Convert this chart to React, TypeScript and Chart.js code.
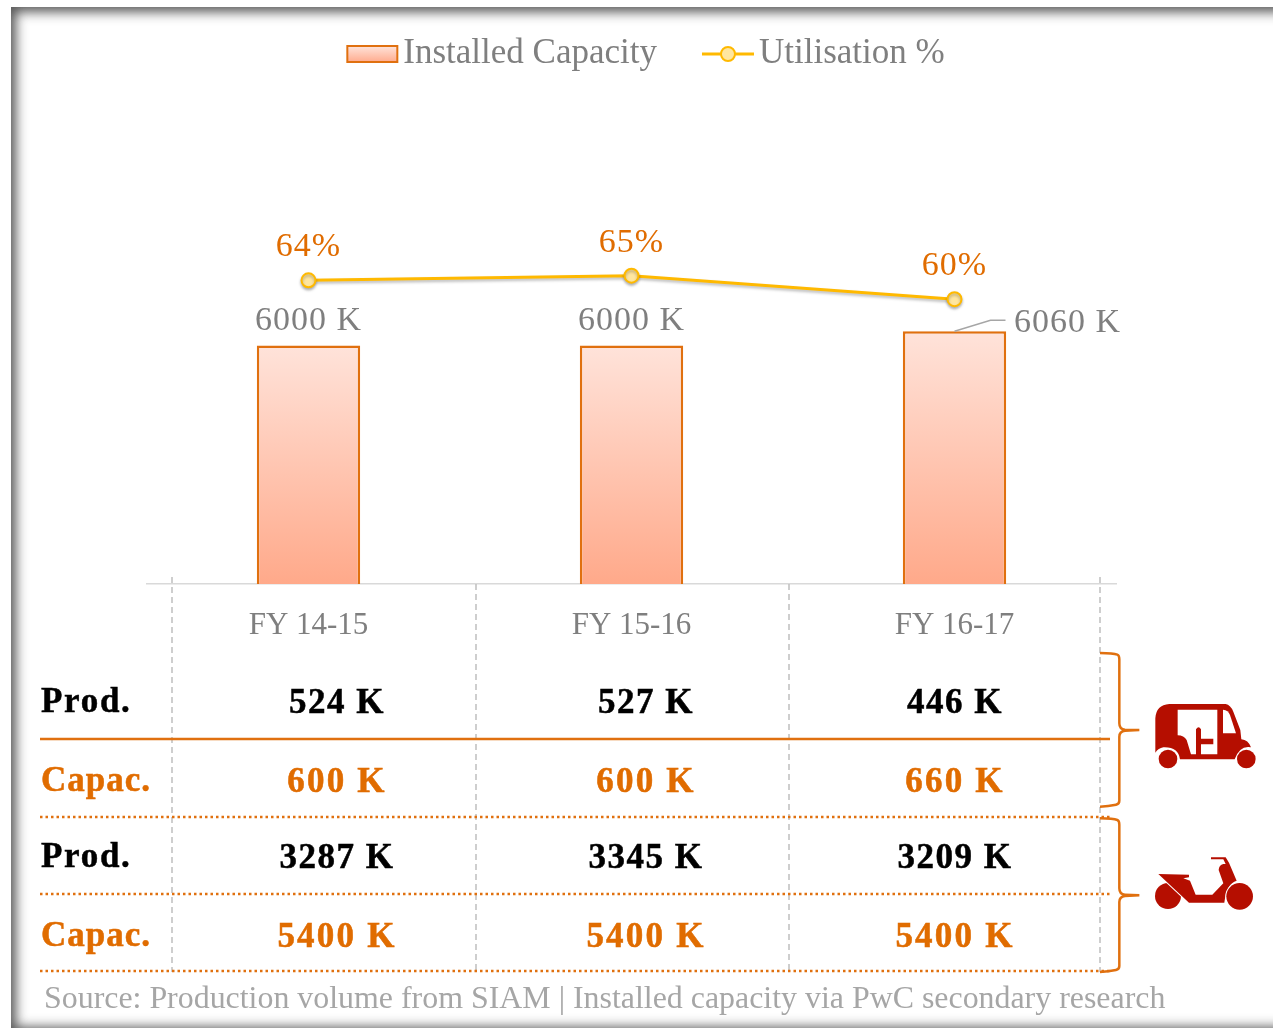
import React, { useEffect, useRef } from "react";
import { Chart, registerables } from "chart.js";

Chart.register(...registerables);

const categories = ["FY 14-15", "FY 15-16", "FY 16-17"];
const installedCapacity = [6000, 6000, 6060];
const utilisation = [64, 65, 60];
const threeWheelerProd = [524, 527, 446];
const threeWheelerCapac = [600, 600, 660];
const twoWheelerProd = [3287, 3345, 3209];
const twoWheelerCapac = [5400, 5400, 5400];
const sourceNote = "Source: Production volume from SIAM | Installed capacity via PwC secondary research";

const SERIF = '"Liberation Serif", serif';
const GREY = "#7f7f7f";
const ORANGE = "#e06c00";
const BORDER = "#e0700f";
const YELLOW = "#ffb900";
const RED = "#b50e00";

const labelsPlugin = {
  id: "labelsPlugin",
  beforeDatasetDraw(chart: any, args: any) {
    if (args.index === 1) {
      const c = chart.ctx;
      c.save();
      c.shadowColor = "rgba(0,0,0,0.28)";
      c.shadowBlur = 3;
      c.shadowOffsetY = 2;
    }
  },
  afterDatasetDraw(chart: any, args: any) {
    if (args.index === 1) chart.ctx.restore();
  },
  afterDraw(chart: any) {
    const c = chart.ctx;
    c.save();
    c.textAlign = "center";
    c.textBaseline = "middle";
    // value labels
    c.font = `34px ${SERIF}`;
    c.letterSpacing = "1px";
    const bars = chart.getDatasetMeta(0).data;
    bars.forEach((bar: any, i: number) => {
      c.fillStyle = GREY;
      const callout = i === 2;
      const x = callout ? bar.x + 113 : bar.x;
      const y = callout ? bar.y - 8 : bar.y - 25;
      c.fillText(`${installedCapacity[i]} K`, x, y);
      if (callout) {
        c.beginPath();
        c.moveTo(bar.x, bar.y);
        c.lineTo(bar.x + 36, bar.y - 11);
        c.lineTo(bar.x + 51, bar.y - 11);
        c.strokeStyle = "#a6a6a6";
        c.lineWidth = 1.5;
        c.stroke();
      }
    });
    c.fillStyle = ORANGE;
    chart.getDatasetMeta(1).data.forEach((pt: any, i: number) => {
      c.fillText(`${utilisation[i]}%`, pt.x, pt.y - 33);
    });
    c.letterSpacing = "0px";
    // legend glyphs
    const boxes = chart.legend.legendHitBoxes;
    const a = boxes[0];
    const ya = a.top + a.height / 2;
    const g = c.createLinearGradient(0, ya - 8, 0, ya + 8);
    g.addColorStop(0, "#ffe3da");
    g.addColorStop(1, "#ffab8e");
    c.fillStyle = g;
    c.strokeStyle = BORDER;
    c.lineWidth = 2;
    c.fillRect(a.left + 1, ya - 8, 50, 16);
    c.strokeRect(a.left + 1, ya - 8, 50, 16);
    const b = boxes[1];
    const yb = b.top + b.height / 2;
    c.beginPath();
    c.moveTo(b.left, yb);
    c.lineTo(b.left + 52, yb);
    c.strokeStyle = YELLOW;
    c.lineWidth = 3;
    c.stroke();
    c.beginPath();
    c.arc(b.left + 26, yb, 7, 0, Math.PI * 2);
    c.fillStyle = "#ffe69f";
    c.fill();
    c.lineWidth = 2;
    c.stroke();
    c.restore();
  },
};

function Cell({ x, y, text, color, anchor, spacing }: any) {
  return (
    <div
      style={{
        position: "absolute",
        left: anchor === "left" ? x : x - 150,
        width: anchor === "left" ? 200 : 300,
        top: y - 25,
        height: 50,
        textAlign: anchor === "left" ? "left" : "center",
        font: `bold 35px/50px ${SERIF}`,
        letterSpacing: spacing,
        WebkitTextStroke: `0.5px ${color}`,
        color,
        whiteSpace: "nowrap",
      }}
    >
      {text}
    </div>
  );
}

const colCentres = [337, 646, 955];
const tableRows = [
  { label: "Prod.", y: 701, values: threeWheelerProd, color: "#000000", labelSpacing: "1.7px", spacing: "1.5px" },
  { label: "Capac.", y: 780, values: threeWheelerCapac, color: ORANGE, labelSpacing: "1px", spacing: "2.2px" },
  { label: "Prod.", y: 856, values: twoWheelerProd, color: "#000000", labelSpacing: "1.7px", spacing: "1.5px" },
  { label: "Capac.", y: 935, values: twoWheelerCapac, color: ORANGE, labelSpacing: "1px", spacing: "2.2px" },
];

export default function App() {
  const ref = useRef<HTMLCanvasElement | null>(null);
  useEffect(() => {
    if (!ref.current) return;
    const chart = new Chart(ref.current, {
      type: "bar",
      plugins: [labelsPlugin as any],
      data: {
        labels: categories,
        datasets: [
          {
            type: "bar",
            label: "Installed Capacity",
            data: installedCapacity,
            yAxisID: "y",
            barPercentage: 0.32,
            categoryPercentage: 1,
            borderWidth: 2.5,
            borderColor: BORDER,
            backgroundColor: (ctx: any) => {
              const { chart: ch, dataIndex } = ctx;
              const s = ch.scales && ch.scales.y;
              if (!s) return "#ffc4b0";
              const top = s.getPixelForValue(installedCapacity[dataIndex]);
              const g = ch.ctx.createLinearGradient(0, top, 0, s.bottom);
              g.addColorStop(0, "#ffe3da");
              g.addColorStop(1, "#ffa98a");
              return g;
            },
          },
          {
            type: "line",
            label: "Utilisation %",
            data: utilisation,
            yAxisID: "y1",
            borderColor: YELLOW,
            borderWidth: 3,
            tension: 0,
            pointRadius: 7,
            pointBorderWidth: 2,
            pointBackgroundColor: "#ffe69f",
            pointBorderColor: YELLOW,
          },
        ],
      },
      options: {
        responsive: false,
        animation: false,
        devicePixelRatio: 1,
        layout: { padding: { top: -8.5, left: 0, right: 0, bottom: 0 } },
        plugins: {
          tooltip: { enabled: false },
          legend: {
            position: "top",
            align: "center",
            labels: {
              font: { family: SERIF, size: 35 },
              color: GREY,
              boxWidth: 39.5,
              boxHeight: 17,
              padding: 45,
              generateLabels: (ch: any) =>
                ch.data.datasets.map((d: any, i: number) => ({
                  text: d.label,
                  fontColor: GREY,
                  fillStyle: "transparent",
                  strokeStyle: "transparent",
                  lineWidth: 0,
                  datasetIndex: i,
                  hidden: false,
                })),
            },
          },
        },
        scales: {
          x: {
            offset: true,
            grid: { display: false },
            border: { color: "#d9d9d9", width: 1.5 },
            ticks: {
              autoSkip: false,
              maxRotation: 0,
              padding: 15,
              color: GREY,
              font: { family: SERIF, size: 31 },
            },
            afterFit: (s: any) => {
              s.height = 445;
            },
          },
          y: {
            position: "left",
            min: 5000,
            max: 7108,
            grid: { display: false },
            border: { display: false },
            ticks: { display: false },
            afterFit: (s: any) => {
              s.width = 129;
            },
          },
          y1: {
            position: "right",
            min: -0.6,
            max: 106.3,
            grid: { display: false },
            border: { display: false },
            ticks: { display: false },
            afterFit: (s: any) => {
              s.width = 157;
            },
          },
        },
      } as any,
    });
    return () => chart.destroy();
  }, []);

  const dotted = [817, 894, 971];
  const vDash = [
    { x: 172, y1: 577 },
    { x: 476, y1: 584 },
    { x: 789, y1: 584 },
    { x: 1100, y1: 577 },
  ];

  return (
    <div style={{ position: "fixed", left: 0, top: 0, width: 1273, height: 1029, overflow: "hidden", background: "#fff" }}>
      <div
        style={{
          position: "absolute",
          left: 11,
          top: 7,
          width: 1300,
          height: 1021,
          boxShadow: "inset 2px 2px 12px 3px rgba(70,70,70,0.9)",
          background: "#fff",
        }}
      />
      <canvas ref={ref} width={1255} height={1029} style={{ position: "absolute", left: 18, top: 0, width: 1255, height: 1029 }} />
      <svg width={1273} height={1029} viewBox="0 0 1273 1029" style={{ position: "absolute", left: 0, top: 0 }}>
        {vDash.map((d) => (
          <line key={d.x} x1={d.x} x2={d.x} y1={d.y1} y2={972} stroke="#bfbfbf" strokeWidth={1.5} strokeDasharray="6 4" />
        ))}
        <line x1={40} x2={1110} y1={739} y2={739} stroke={BORDER} strokeWidth={2.5} />
        {dotted.map((y) => (
          <line key={y} x1={40} x2={1110} y1={y} y2={y} stroke={BORDER} strokeWidth={2.5} strokeDasharray="2.5 3" />
        ))}
        <g transform="translate(1080 640) scale(0.3333)">
          <g fill="none" stroke={BORDER} strokeWidth={7.5}>
            <path d="M60 39 Q100 40 112 44 Q118 46 118 58 L118 250 Q118 268 135 269 L178 270 L135 272 Q118 274 118 290 L118 482 Q118 492 108 494 Q85 499 60 500" />
            <path d="M60 535 Q100 536 112 540 Q118 542 118 554 L118 745 Q118 763 135 764 L178 766 L135 768 Q118 770 118 786 L118 978 Q118 988 108 990 Q85 995 60 996" />
          </g>
          <g fill={RED}>
            <path d="M226 338 L226 235 Q228 195 268 192 L437 192 Q452 195 460 215 L481 270 L484 298 Q505 300 513 322 Q480 315 464 358 L300 358 Q295 320 250 322 Q235 325 226 338 Z" />
            <circle cx={264} cy={357} r={28} />
            <circle cx={499} cy={357} r={28} />
            <path fill="#fff" d="M293 209 L412 209 L412 343 L363 343 L363 313 L400 313 L400 296 L363 296 L363 268 Q356 255 348 268 L348 343 L333 343 L320 300 Q312 286 293 286 Z" />
            <path fill="#fff" d="M429 209 Q445 210 450 225 L468 280 L429 280 Z" />
            <circle cx={264} cy={768} r={39} />
            <path stroke="#fff" strokeWidth={6} paintOrder="stroke" d="M235 702 L327 704 L327 712 L310 715 L330 722 L347 764 L397 764 L430 730 L416 690 Q417 675 430 672 L437 672 L430 658 L393 658 L393 652 L437 652 L447 668 L470 722 Q440 730 433 788 L327 788 Z" />
            <circle cx={479} cy={769} r={40} stroke="#fff" strokeWidth={6} paintOrder="stroke" />
          </g>
        </g>
      </svg>
      {tableRows.map((row) => (
        <React.Fragment key={row.y}>
          <Cell x={41} y={row.y} text={row.label} color={row.color} anchor="left" spacing={row.labelSpacing} />
          {row.values.map((v, i) => (
            <Cell key={i} x={colCentres[i]} y={row.y + 1} text={`${v} K`} color={row.color} anchor="center" spacing={row.spacing} />
          ))}
        </React.Fragment>
      ))}
      <div
        style={{
          position: "absolute",
          left: 44,
          top: 978,
          font: `31.9px/40px ${SERIF}`,
          color: "#a6a6a6",
          whiteSpace: "nowrap",
        }}
      >
        {sourceNote}
      </div>
    </div>
  );
}
